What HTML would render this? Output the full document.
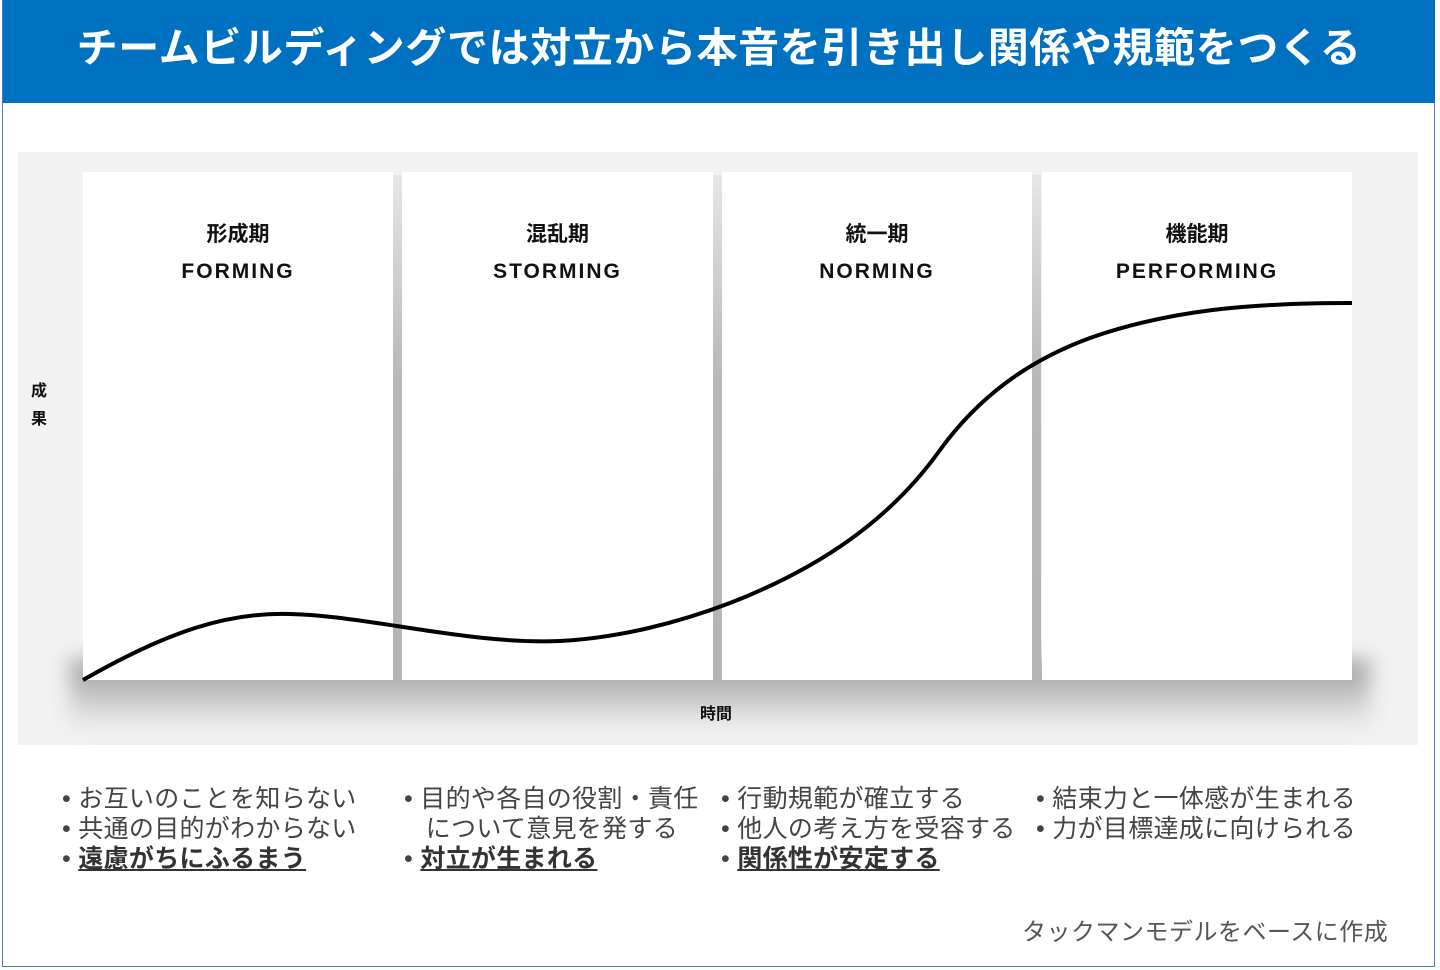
<!DOCTYPE html>
<html><head><meta charset="utf-8"><style>
body{margin:0;width:1440px;height:970px;background:#fff;position:relative;overflow:hidden;font-family:"Liberation Sans","Noto Sans CJK JP",sans-serif}
.frame{position:absolute;left:2px;top:0;width:1433px;height:967px;border:1px solid #4a78c8;box-sizing:border-box}
.hdr{position:absolute;left:3px;top:0;width:1432px;height:103px;background:#0070c0;color:#fff;font-weight:bold;font-size:41px;text-align:center;line-height:96px;letter-spacing:0.6px}
.bg{position:absolute;left:18px;top:152px;width:1400px;height:593px;background:#f2f2f2}
.shadow{position:absolute;left:70px;top:660px;width:1300px;height:70px;background:linear-gradient(#999,#f2f2f2);filter:blur(10px)}
.gap{position:absolute;top:175px;width:9px;height:505px;background:linear-gradient(#e6e6e6,#b8b8b8 40%,#b4b4b4)}
.p{position:absolute;top:172px;height:508px;background:#fff;text-align:center;color:#111;font-weight:bold}
.p .j{margin-top:46px;font-size:21px}
.p .e{margin-top:12px;font-size:21px;letter-spacing:2px}
.lst{position:absolute;top:784px;font-size:25px;color:#444;line-height:30px;white-space:nowrap;letter-spacing:0.3px}
.lst b{text-decoration:underline;color:#333}
</style></head><body>
<div class="frame"></div>
<div class="hdr">チームビルディングでは対立から本音を引き出し関係や規範をつくる</div>
<div class="bg"></div>
<div class="shadow"></div>
<div class="gap" style="left:393px"></div>
<div class="gap" style="left:713px"></div>
<div class="gap" style="left:1032px"></div>
<div class="p" style="left:83px;width:310px"><div class="j">形成期</div><div class="e">FORMING</div></div>
<div class="p" style="left:402px;width:311px"><div class="j">混乱期</div><div class="e">STORMING</div></div>
<div class="p" style="left:722px;width:310px"><div class="j">統一期</div><div class="e">NORMING</div></div>
<div class="p" style="left:1042px;width:310px"><div class="j">機能期</div><div class="e">PERFORMING</div></div>
<svg style="position:absolute;left:0;top:0" width="1440" height="970">
<path d="M83,680 C170,630 230,612 290,614 C370,616 470,645 560,641 C620,638 680,622 730,603 C820,568 890,520 940,450 C980,395 1030,360 1090,338 C1170,310 1250,303 1352,303" fill="none" stroke="#000" stroke-width="4"/>
</svg>
<div style="position:absolute;left:31px;top:378px;font-size:16px;font-weight:bold;line-height:28px;color:#111">成<br>果</div>
<div style="position:absolute;left:700px;top:700px;font-size:16px;font-weight:bold;color:#111">時間</div>
<div class="lst" style="left:62px">• お互いのことを知らない<br>• 共通の目的がわからない<br>• <b>遠慮がちにふるまう</b></div>
<div class="lst" style="left:404px">• 目的や各自の役割・責任<br>&nbsp;&nbsp;&nbsp;について意見を発する<br>• <b>対立が生まれる</b></div>
<div class="lst" style="left:721px">• 行動規範が確立する<br>• 他人の考え方を受容する<br>• <b>関係性が安定する</b></div>
<div class="lst" style="left:1036px">• 結束力と一体感が生まれる<br>• 力が目標達成に向けられる</div>
<div style="position:absolute;left:1022px;top:912px;font-size:24px;color:#555;letter-spacing:0.5px">タックマンモデルをベースに作成</div>
</body></html>
